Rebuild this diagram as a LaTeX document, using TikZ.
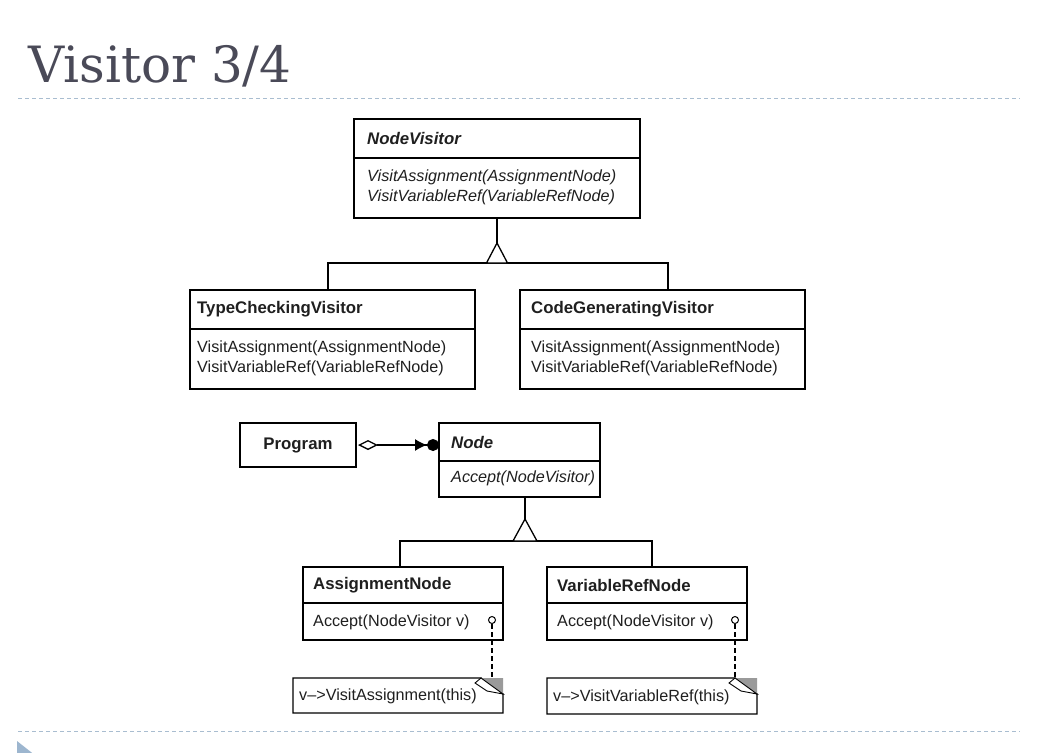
\documentclass[tikz,border=0pt]{standalone}
\usepackage{fontspec}
\setmainfont{Liberation Sans}
\newfontfamily\titlefont{DejaVu Serif}
\usetikzlibrary{arrows.meta}
\definecolor{rulecol}{HTML}{A9BDD0}
\definecolor{titlecol}{HTML}{4A4A58}
\definecolor{bulletcol}{HTML}{9DB6CF}
\definecolor{foldcol}{HTML}{9A9A9A}

% class box with a header compartment: name, x, y, width, height, header height
\newcommand{\umlclass}[6]{%
  \node[classbox, minimum width=#4, minimum height=#5] (#1) at (#2,#3) {};
  \draw[classline] ([yshift=-#6]#1.north west) -- ([yshift=-#6]#1.north east);
}
% note with a folded top-right corner: name, x, y, width, height
\newcommand{\umlnote}[5]{%
  \node[notebox, minimum width=#4, minimum height=#5] (#1) at (#2,#3) {};
  \draw[classline] (#1.north west) -- ([xshift=-22]#1.north east)
     -- ([yshift=-16]#1.north east) -- (#1.south east) -- (#1.south west) -- cycle;
  \fill[foldcol] ([xshift=-22]#1.north east) -- (#1.north east) -- ([yshift=-16]#1.north east) -- cycle;
  \draw[line width=0.9pt, fill=white] ([xshift=-22]#1.north east) -- ([xshift=-28,yshift=-5]#1.north east)
     -- ([xshift=-16,yshift=-13]#1.north east) -- ([yshift=-16]#1.north east) -- cycle;
}

\begin{document}
\begin{tikzpicture}[x=1pt,y=-1pt,
  classline/.style={line width=1.3pt, black},
  classbox/.style={draw, line width=1.3pt, inner sep=0pt, outer sep=0pt, anchor=north west},
  notebox/.style={inner sep=0pt, outer sep=0pt, anchor=north west},
  lbl/.style={anchor=west, inner sep=0pt, text=black!88, font=\fontsize{16.2}{19}\selectfont},
  hdr/.style={lbl, font=\fontsize{16.8}{19}\selectfont\bfseries},
  abshdr/.style={lbl, font=\fontsize{16.8}{19}\selectfont\bfseries\itshape},
  absop/.style={lbl, font=\fontsize{16.2}{19}\selectfont\itshape},
  pin/.style={circle, draw, line width=1pt, fill=white, inner sep=0pt, minimum size=7pt},
  notelink/.style={line width=1.3pt, dash pattern=on 5pt off 3pt},
  rule/.style={rulecol, line width=1pt, dash pattern=on 4pt off 3pt}
]
\useasboundingbox (0,0) rectangle (1040,752);
\clip (0,0) rectangle (1040,752);

% slide heading and rules
\node[anchor=base west, inner sep=0pt, text=titlecol, font=\titlefont\fontsize{50}{54}\selectfont] (title) at (28,82) {Visitor 3/4};
\coordinate (ruletopL) at (18,98);   \coordinate (ruletopR) at (1020,98);
\coordinate (rulebotL) at (18,731);  \coordinate (rulebotR) at (1020,731);
\draw[rule] (ruletopL) -- (ruletopR);
\draw[rule] (rulebotL) -- (rulebotR);
\fill[bulletcol] (17,741) -- (36,756) -- (17,771) -- cycle;

% visitor hierarchy
\umlclass{nv}{354}{119}{286}{99}{39}
\node[abshdr] (nvname) at (367,138) {NodeVisitor};
\node[absop] (nvop1) at (367,177) {VisitAssignment(AssignmentNode)};
\node[absop] (nvop2) at (367,197) {VisitVariableRef(VariableRefNode)};

\umlclass{tc}{190}{290}{285}{99}{39}
\node[hdr] (tcname) at (197,309) {TypeCheckingVisitor};
\node[lbl] (tcop1) at (197,348) {VisitAssignment(AssignmentNode)};
\node[lbl] (tcop2) at (197,368) {VisitVariableRef(VariableRefNode)};

\umlclass{cg}{520}{290}{285}{99}{39}
\node[hdr] (cgname) at (531,309) {CodeGeneratingVisitor};
\node[lbl] (cgop1) at (531,348) {VisitAssignment(AssignmentNode)};
\node[lbl] (cgop2) at (531,368) {VisitVariableRef(VariableRefNode)};

\draw[classline] (nv.south) -- ++(0,25) coordinate (nvtip);
\draw[classline] ([xshift=-4.5]tc.north) -- ++(0,-27) -| ([xshift=5.5]cg.north);
\draw[classline, fill=white] (nvtip) -- ++(-10.5,20) -- ++(21,0) -- cycle;

% element hierarchy
\node[classbox, minimum width=116, minimum height=44] (prog) at (240,423) {};
\node[anchor=center, inner sep=0pt, text=black!88, font=\fontsize{16.8}{19}\selectfont\bfseries] (progname) at (prog.center) {Program};

\umlclass{node}{439}{423}{161}{74}{38}
\node[abshdr] (nodename) at (451,442) {Node};
\node[absop] (nodeop) at (451,478) {Accept(NodeVisitor)};

\draw[classline, shorten <=2pt,
  {Diamond[fill=white, length=20pt, width=10pt]}-{Latex[length=12pt, width=12pt] Circle[length=12pt]}]
  (prog.east) -- (prog.east -| node.west);

\umlclass{an}{303}{567}{200}{73}{36}
\node[hdr] (anname) at (313,585) {AssignmentNode};
\node[lbl] (anop) at (313,622) {Accept(NodeVisitor v)};

\umlclass{vr}{547}{567}{200}{73}{36}
\node[hdr] (vrname) at (557,585) {VariableRefNode};
\node[lbl] (vrop) at (557,622) {Accept(NodeVisitor v)};

\draw[classline] ([xshift=5.5]node.south) -- ++(0,22) coordinate (nodetip);
\draw[classline] ([xshift=-3]an.north) -- ++(0,-26) -| ([xshift=5]vr.north);
\draw[classline, fill=white] (nodetip) -- ++(-12,22) -- ++(24,0) -- cycle;

% implementation notes
\umlnote{n1}{293}{678}{210}{35}
\node[lbl] (n1text) at (299,696) {v–>VisitAssignment(this)};
\umlnote{n2}{547}{678}{210}{36}
\node[lbl] (n2text) at (553,697) {v–>VisitVariableRef(this)};

\node[pin] (p1) at (492,620) {};
\node[pin] (p2) at (735,620) {};
\draw[notelink] (p1.south) -- (p1 |- n1.north);
\draw[notelink] (p2.south) -- (p2 |- n2.north);
\end{tikzpicture}
\end{document}
